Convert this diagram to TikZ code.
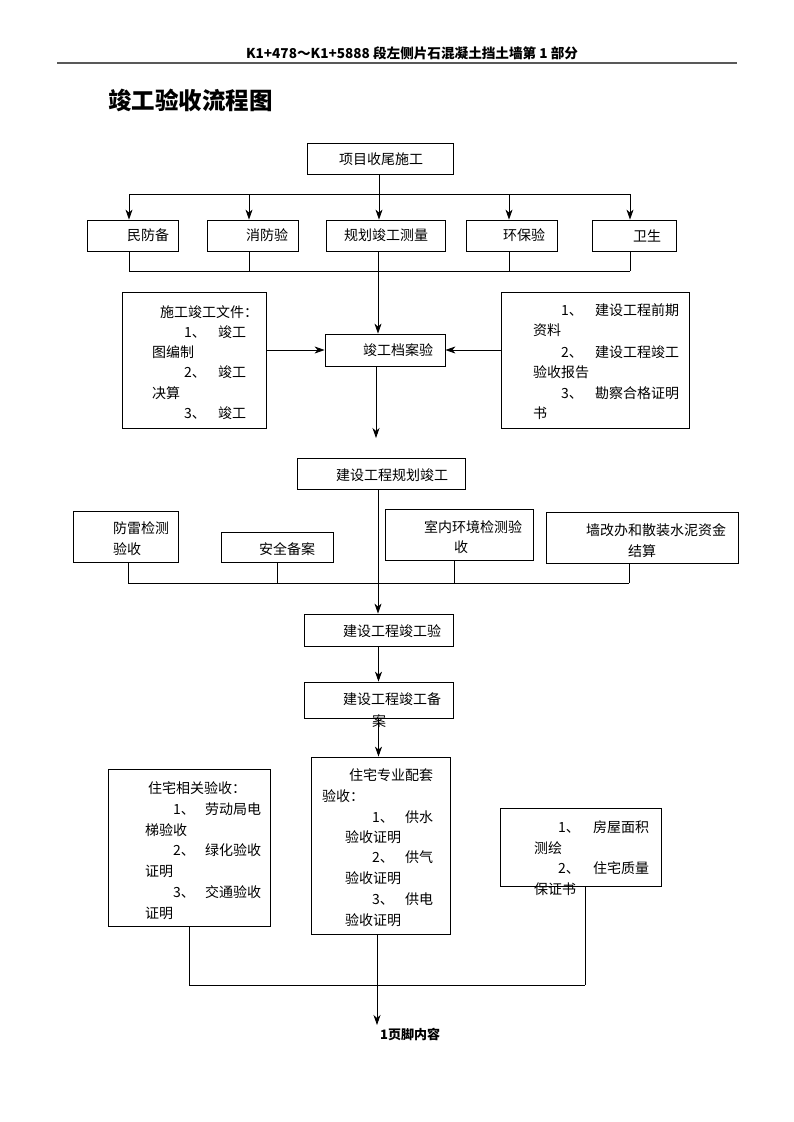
\documentclass[tikz,border=0pt]{standalone}
\usepackage{fontspec}
\setmainfont{Noto Sans CJK SC}
\usetikzlibrary{arrows.meta}
\newcommand\nitem[2]{\makebox[#1][l]{#2}}
\begin{document}
\begin{tikzpicture}[x=1pt,y=-1pt,
  box/.style={draw, line width=0.8pt, inner sep=0pt},
  txt/.style={anchor=west, inner sep=0pt, font=\fontsize{14pt}{16pt}\selectfont},
  ln/.style={line width=0.8pt},
  arr/.style={line width=0.8pt, -{Stealth[length=10pt,width=7pt,inset=3pt]}},
  bold/.style={inner sep=0pt, font=\bfseries\fontsize{13pt}{15pt}\selectfont}]
\useasboundingbox (0,0) rectangle (793,1122);

% header
\node[inner sep=0pt, font=\bfseries\fontsize{13.6pt}{15pt}\selectfont] (hdr) at (412,53) {K1+478～K1+5888 段左侧片石混凝土挡土墙第 1 部分};
\coordinate (rl) at (57,63); \coordinate (rr) at (737,63);
\draw[line width=1.6pt, black!65] (rl) -- (rr);
\node[anchor=west, inner sep=0pt, font=\bfseries\fontsize{23.5pt}{26pt}\selectfont] (title) at (108,100) {竣工验收流程图};

% top box
\node[box, minimum width=146pt, minimum height=31pt] (top) at (380,159) {};
\node[txt] (ttop) at (339,159) {项目收尾施工};

% row 1
\node[box, minimum width=91pt, minimum height=31pt] (r1) at (132.5,235.5) {};
\node[box, minimum width=91pt, minimum height=31pt] (r2) at (252.5,235.5) {};
\node[box, minimum width=119pt, minimum height=31pt] (r3) at (385.5,235.5) {};
\node[box, minimum width=91pt, minimum height=31pt] (r4) at (511.5,235.5) {};
\node[box, minimum width=84pt, minimum height=31pt] (r5) at (634,235.5) {};
\node[txt] (tr1) at (127,235.5) {民防备};
\node[txt] (tr2) at (246,235.5) {消防验};
\node[txt] (tr3) at (344,235.5) {规划竣工测量};
\node[txt] (tr4) at (503,235.5) {环保验};
\node[txt] (tr5) at (633,235.5) {卫生};

\coordinate (t1) at (129,194); \coordinate (t2) at (249,194);
\coordinate (t3) at (379,194); \coordinate (t4) at (509,194);
\coordinate (t5) at (630,194);
\draw[ln] (t3 |- top.south) -- (t3);
\draw[ln] (t1) -- (t5);
\draw[arr] (t1) -- (t1 |- r1.north);
\draw[arr] (t2) -- (t2 |- r2.north);
\draw[arr] (t3) -- (t3 |- r3.north);
\draw[arr] (t4) -- (t4 |- r4.north);
\draw[arr] (t5) -- (t5 |- r5.north);

\coordinate (u1) at (129,271); \coordinate (u2) at (249,271);
\coordinate (u3) at (378,271); \coordinate (u4) at (509,271);
\coordinate (u5) at (630,271);
\draw[ln] (u1 |- r1.south) -- (u1);
\draw[ln] (u2 |- r2.south) -- (u2);
\draw[ln] (u4 |- r4.south) -- (u4);
\draw[ln] (u5 |- r5.south) -- (u5);
\draw[ln] (u1) -- (u5);

% archive row
\node[box, minimum width=120pt, minimum height=32pt] (jd) at (385,350) {};
\node[txt] (tjd) at (363,350) {竣工档案验};
\draw[arr] (u3 |- r3.south) -- (u3 |- jd.north);

\node[box, minimum width=144pt, minimum height=136pt] (L1) at (194,360) {};
\node[txt] (l1a) at (160,312) {施工竣工文件：};
\node[txt] (l1b) at (184,332) {\nitem{34pt}{1、}竣工};
\node[txt] (l1c) at (152,352) {图编制};
\node[txt] (l1d) at (184,372) {\nitem{34pt}{2、}竣工};
\node[txt] (l1e) at (152,393) {决算};
\node[txt] (l1f) at (184,413) {\nitem{34pt}{3、}竣工};

\node[box, minimum width=188pt, minimum height=136pt] (R1) at (595,360) {};
\node[txt] (r1a) at (561,310) {\nitem{34pt}{1、}建设工程前期};
\node[txt] (r1b) at (533,330) {资料};
\node[txt] (r1c) at (561,352) {\nitem{34pt}{2、}建设工程竣工};
\node[txt] (r1d) at (533,372) {验收报告};
\node[txt] (r1e) at (561,393) {\nitem{34pt}{3、}勘察合格证明};
\node[txt] (r1f) at (533,413) {书};

\draw[arr] (L1.east |- jd.west) -- (jd.west);
\draw[arr] (R1.west |- jd.east) -- (jd.east);
\coordinate (a1) at (376,438);
\draw[arr] (a1 |- jd.south) -- (a1);

% planning completion
\node[box, minimum width=168pt, minimum height=31pt] (gh) at (381,473.5) {};
\node[txt] (tgh) at (336,475) {建设工程规划竣工};

\node[box, minimum width=105pt, minimum height=51pt] (s1) at (125.5,536.5) {};
\node[box, minimum width=112pt, minimum height=30pt] (s2) at (277,547) {};
\node[box, minimum width=148pt, minimum height=51pt] (s3) at (459,534.5) {};
\node[box, minimum width=192pt, minimum height=51pt] (s4) at (642,537.5) {};
\node[txt] (ts1a) at (113,528) {防雷检测};
\node[txt] (ts1b) at (113,549) {验收};
\node[txt] (ts2) at (259,549) {安全备案};
\node[txt] (ts3a) at (424,527) {室内环境检测验};
\node[txt] (ts3b) at (454,547) {收};
\node[txt] (ts4a) at (586,530) {墙改办和散装水泥资金};
\node[txt] (ts4b) at (628,551) {结算};

\coordinate (v1) at (128,583); \coordinate (v2) at (277,583);
\coordinate (v3) at (454,583); \coordinate (v4) at (629,583);
\draw[ln] (v1 |- s1.south) -- (v1);
\draw[ln] (v2 |- s2.south) -- (v2);
\draw[ln] (v3 |- s3.south) -- (v3);
\draw[ln] (v4 |- s4.south) -- (v4);
\draw[ln] (v1) -- (v4);

% completion acceptance
\node[box, minimum width=149pt, minimum height=32pt] (jy) at (378.5,630) {};
\node[txt] (tjy) at (343,631) {建设工程竣工验};
\coordinate (sp) at (378,583);
\draw[arr] (sp |- gh.south) -- (sp |- jy.north);

\node[box, minimum width=149pt, minimum height=36pt] (ba) at (378.5,700) {};
\node[txt] (tba1) at (343,699) {建设工程竣工备};
\node[txt] (tba2) at (372,721) {案};
\draw[arr] (jy.south) -- (ba.north);

% bottom row
\node[box, minimum width=162pt, minimum height=157pt] (zx) at (189,847.5) {};
\node[box, minimum width=139pt, minimum height=177pt] (zz) at (380.5,845.5) {};
\node[box, minimum width=161pt, minimum height=78pt] (fw) at (580.5,847) {};
\draw[arr] (ba.south) -- (ba.south |- zz.north);

\node[txt] (zxa) at (148,788) {住宅相关验收：};
\node[txt] (zxb) at (173,809) {\nitem{32pt}{1、}劳动局电};
\node[txt] (zxc) at (145,830) {梯验收};
\node[txt] (zxd) at (173,850) {\nitem{32pt}{2、}绿化验收};
\node[txt] (zxe) at (145,871) {证明};
\node[txt] (zxf) at (173,892) {\nitem{32pt}{3、}交通验收};
\node[txt] (zxg) at (145,913) {证明};

\node[txt] (zza) at (349,775) {住宅专业配套};
\node[txt] (zzb) at (322,796) {验收：};
\node[txt] (zzc) at (372,817) {\nitem{33pt}{1、}供水};
\node[txt] (zzd) at (345,837) {验收证明};
\node[txt] (zze) at (372,857) {\nitem{33pt}{2、}供气};
\node[txt] (zzf) at (345,878) {验收证明};
\node[txt] (zzg) at (372,899) {\nitem{33pt}{3、}供电};
\node[txt] (zzh) at (345,920) {验收证明};

\node[txt] (fwa) at (558,827) {\nitem{35pt}{1、}房屋面积};
\node[txt] (fwb) at (534,848) {测绘};
\node[txt] (fwc) at (558,868) {\nitem{35pt}{2、}住宅质量};
\node[txt] (fwd) at (534,889) {保证书};

\coordinate (w1) at (189,985); \coordinate (w2) at (377,985);
\coordinate (w3) at (585,985); \coordinate (wend) at (377,1025);
\draw[ln] (w1 |- zx.south) -- (w1);
\draw[ln] (w3 |- fw.south) -- (w3);
\draw[ln] (w1) -- (w3);
\draw[arr] (w2 |- zz.south) -- (wend);

\node[bold, anchor=west] (foot) at (380,1034) {1页脚内容};
\end{tikzpicture}
\end{document}
